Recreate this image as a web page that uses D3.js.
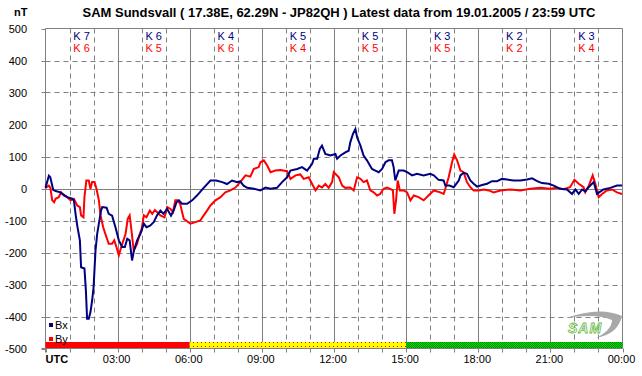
<!DOCTYPE html>
<html><head><meta charset="utf-8">
<script src="https://cdn.jsdelivr.net/npm/d3@7"></script>
<style>body{margin:0;background:#fff}svg{display:block}text{font-family:"Liberation Sans",Arial,sans-serif}</style>
</head><body><svg id="c" width="642" height="376"></svg>
<script>
const title = "SAM Sundsvall ( 17.38E, 62.29N - JP82QH ) Latest data from 19.01.2005 / 23:59 UTC";
const yTicks = [500,400,300,200,100,0,-100,-200,-300,-400,-500];
const xTickLabels = ["UTC","03:00","06:00","09:00","12:00","15:00","18:00","21:00","00:00"];
const kBx = [7,6,4,5,5,3,2,3];
const kBy = [6,5,6,4,5,5,2,4];
const bxHours = [0,0.14,0.2,0.32,0.42,0.62,0.9,1.11,1.18,1.25,1.32,1.43,1.48,1.62,1.68,1.73,1.8,1.87,1.94,2.0,2.08,2.15,2.22,2.31,2.36,2.54,2.63,2.77,2.91,3.05,3.19,3.3,3.4,3.5,3.6,3.68,3.81,3.95,4.09,4.2,4.35,4.5,4.64,4.78,4.9,5.06,5.22,5.33,5.45,5.55,5.68,5.89,6.1,6.3,6.58,6.86,7.1,7.35,7.55,7.76,7.97,8.1,8.24,8.39,8.67,8.94,9.15,9.36,9.63,9.84,10.05,10.19,10.47,10.67,10.88,11.09,11.16,11.3,11.41,11.5,11.64,11.85,12.06,12.13,12.27,12.47,12.61,12.68,12.79,12.89,12.96,13.1,13.23,13.37,13.58,13.72,13.86,14.0,14.14,14.27,14.41,14.48,14.55,14.69,14.9,15.04,15.25,15.45,15.73,16.0,16.15,16.35,16.56,16.63,16.8,16.98,17.19,17.26,17.39,17.53,17.67,17.81,17.95,18.16,18.37,18.57,18.78,18.99,19.2,19.47,19.75,20.03,20.24,20.45,20.65,20.93,21.14,21.41,21.69,21.9,22.04,22.18,22.32,22.45,22.59,22.8,22.94,23.21,23.49,23.77,23.98];
const bxValues = [2,40,35,-4,-8,-12,-27,-32,-37,-79,-116,-162,-246,-250,-319,-407,-407,-386,-350,-308,-194,-142,-110,-69,-58,-60,-79,-85,-121,-162,-183,-183,-157,-162,-225,-194,-162,-142,-110,-121,-116,-105,-84,-69,-79,-64,-85,-69,-43,-37,-48,-48,-37,-22,2,25,25,20,14,25,20,22,9,2,-1,-6,3,-1,2,20,35,56,61,67,56,77,93,93,124,134,108,103,108,93,103,113,118,145,171,186,160,134,103,88,61,56,51,61,82,88,88,67,25,56,56,51,41,46,41,46,41,27,25,9,9,4,25,41,49,46,25,15,6,11,15,23,23,30,28,25,25,28,32,23,17,15,9,-1,-3,-17,-3,-17,-3,-9,4,20,-17,-3,2,9,9];
const byHours = [0,0.14,0.2,0.28,0.36,0.42,0.55,0.65,0.76,0.9,1.04,1.18,1.32,1.43,1.48,1.58,1.62,1.7,1.8,1.87,1.94,2.04,2.12,2.22,2.29,2.4,2.49,2.63,2.77,2.86,2.95,3.05,3.15,3.33,3.42,3.5,3.56,3.67,3.81,3.92,4.0,4.09,4.2,4.34,4.44,4.55,4.78,4.95,5.06,5.2,5.3,5.4,5.5,5.6,5.75,6.03,6.23,6.44,6.58,6.72,6.86,7.07,7.28,7.48,7.69,7.9,8.1,8.32,8.52,8.66,8.87,8.94,9.08,9.22,9.36,9.56,9.77,10.05,10.19,10.4,10.6,10.74,10.95,11.09,11.23,11.37,11.5,11.64,11.78,11.92,11.99,12.2,12.34,12.47,12.68,12.82,12.96,13.1,13.23,13.37,13.51,13.65,13.79,13.92,14.06,14.2,14.34,14.45,14.51,14.58,14.65,14.74,14.9,15.04,15.18,15.32,15.52,15.73,15.93,16.15,16.42,16.56,16.63,16.77,16.91,17.0,17.12,17.26,17.39,17.53,17.67,17.81,18.02,18.23,18.44,18.64,18.92,19.33,19.75,20.17,20.58,21.0,21.27,21.55,21.82,22.0,22.18,22.38,22.45,22.6,22.76,22.87,23.01,23.15,23.35,23.56,23.77,23.98];
const byValues = [2,9,3,-37,-43,-32,-27,-12,-22,-27,-37,-32,-53,-58,-84,-90,-27,25,25,-1,20,20,-1,-37,-84,-121,-142,-173,-173,-162,-183,-209,-183,-142,-95,-84,-121,-194,-173,-142,-126,-84,-90,-69,-79,-67,-84,-90,-58,-64,-74,-37,-37,-48,-95,-110,-105,-100,-84,-69,-53,-37,-27,-12,-6,3,20,41,37,61,67,82,88,72,51,56,58,54,30,41,44,30,35,14,-6,9,3,14,2,20,51,35,9,2,3,-6,35,30,20,25,-6,-12,-22,-17,-1,3,-1,-6,-79,-37,25,-6,-6,-12,-37,-22,-27,-37,-22,-6,-12,-17,-1,35,82,106,88,56,51,20,4,-6,-6,-3,-6,-12,-6,-3,-6,-1,2,-1,2,-2,4,27,15,4,-12,9,41,15,-27,-17,-6,-3,-12,-17];

const svg = d3.select("#c");
const X0 = 45.5, X1 = 622.5, Y0 = 28.5, Y1 = 348.5;
const x = d3.scaleLinear().domain([0,24]).range([X0,X1]);
const y = d3.scaleLinear().domain([-500,500]).range([Y1,Y0]);
const grid = "#808080";

// patterns
const defs = svg.append("defs");
const py = defs.append("pattern").attr("id","pYel").attr("patternUnits","userSpaceOnUse").attr("width",4).attr("height",4);
py.append("rect").attr("width",4).attr("height",4).attr("fill","#ffff00");
py.append("rect").attr("x",1).attr("y",2).attr("width",1).attr("height",1).attr("fill","#ff0000");
const pg = defs.append("pattern").attr("id","pGrn").attr("patternUnits","userSpaceOnUse").attr("width",2).attr("height",2);
pg.append("rect").attr("width",2).attr("height",2).attr("fill","#00dd00");
pg.append("rect").attr("width",1).attr("height",1).attr("fill","#008800");
pg.append("rect").attr("x",1).attr("y",1).attr("width",1).attr("height",1).attr("fill","#008800");

// grid horizontal
svg.append("g").selectAll("line").data(yTicks.filter(d=>d!==500 && d!==-500)).join("line")
  .attr("x1",X0).attr("x2",X1).attr("y1",d=>Math.round(y(d))+0.5).attr("y2",d=>Math.round(y(d))+0.5)
  .attr("stroke",grid).attr("stroke-width",1).attr("stroke-dasharray",d=>d===0?null:"5,4");
// grid vertical
const hours = d3.range(1,24);
svg.append("g").selectAll("line").data(hours).join("line")
  .attr("x1",d=>Math.round(x(d))+0.5).attr("x2",d=>Math.round(x(d))+0.5).attr("y1",Y0).attr("y2",Y1)
  .attr("stroke",grid).attr("stroke-width",1).attr("stroke-dasharray",d=>d%3===0?null:"5,4");
// frame
svg.append("path").attr("d",`M${X0},${Y1+4}V${Y0}H${X1}V${Y1}`).attr("fill","none").attr("stroke",grid);
svg.append("line").attr("x1",X0-4).attr("x2",X1).attr("y1",Y1).attr("y2",Y1).attr("stroke",grid);
// ticks
svg.append("g").selectAll("line").data(yTicks).join("line")
  .attr("x1",X0-4).attr("x2",X0).attr("y1",d=>Math.round(y(d))+0.5).attr("y2",d=>Math.round(y(d))+0.5).attr("stroke",grid);
svg.append("g").selectAll("line").data(d3.range(0,25)).join("line")
  .attr("x1",d=>Math.round(x(d))+0.5).attr("x2",d=>Math.round(x(d))+0.5).attr("y1",Y1).attr("y2",Y1+4).attr("stroke",grid);

// bottom status bar
const bars = [[0,6,"#ff0000"],[6,15,"url(#pYel)"],[15,24,"url(#pGrn)"]];
svg.append("g").selectAll("rect").data(bars).join("rect")
  .attr("x",d=>x(d[0])).attr("width",d=>x(d[1])-x(d[0])).attr("y",Y1-6.5).attr("height",6).attr("fill",d=>d[2]);

// y labels
svg.append("g").selectAll("text").data(yTicks).join("text")
  .attr("x",27).attr("y",d=>y(d)+4).attr("text-anchor","end").attr("font-size",11).text(d=>d);
// x labels
svg.append("g").selectAll("text").data(xTickLabels).join("text")
  .attr("x",(d,i)=>i===0?X0:x(i*3)-1).attr("y",363).attr("text-anchor",(d,i)=>i===0?"start":"middle")
  .attr("font-size",11).attr("font-weight",(d,i)=>i===0?"bold":null).text(d=>d);

// title
svg.append("text").attr("x",339).attr("y",17).attr("text-anchor","middle").attr("font-size",13).attr("font-weight","bold").text(title);
svg.append("text").attr("x",14).attr("y",16).attr("font-size",11).attr("font-weight","bold").text("nT");

// K labels
const kg = svg.append("g");
kg.selectAll("text.kx").data(kBx).join("text").attr("class","kx")
  .attr("x",(d,i)=>x(i*3+1.5)).attr("y",40).attr("text-anchor","middle").attr("font-size",11).attr("fill","#000080").text(d=>"K "+d);
kg.selectAll("text.ky").data(kBy).join("text").attr("class","ky")
  .attr("x",(d,i)=>x(i*3+1.5)).attr("y",52).attr("text-anchor","middle").attr("font-size",11).attr("fill","#ff0000").text(d=>"K "+d);

// lines
const line = d3.line().x(d=>x(d[0])).y(d=>y(d[1]));
svg.append("path").datum(d3.zip(byHours,byValues)).attr("d",line).attr("fill","none").attr("stroke","#ff0000").attr("stroke-width",2);
svg.append("path").datum(d3.zip(bxHours,bxValues)).attr("d",line).attr("fill","none").attr("stroke","#000080").attr("stroke-width",2);

// legend
const leg = [["Bx","#000080",325],["By","#ff0000",339]];
const lg = svg.append("g").selectAll("g").data(leg).join("g");
lg.append("rect").attr("x",49).attr("y",d=>d[2]-2).attr("width",4).attr("height",4).attr("fill",d=>d[1]);
lg.append("text").attr("x",55).attr("y",d=>d[2]+4).attr("font-size",11).text(d=>d[0]);

// logo
const logo = svg.append("g");
logo.append("path").attr("d","M566,318 Q600,306 622,316 Q618,334 596,338 Q612,330 612,320 Q596,313 566,318Z").attr("fill","#a8a8a8");
logo.append("text").attr("x",568).attr("y",333).attr("font-size",14).attr("font-style","italic").attr("font-weight","bold")
  .attr("fill","#ffffff").attr("stroke","#66bb44").attr("stroke-width",0.8).attr("letter-spacing",1).text("SAM");
</script></body></html>
